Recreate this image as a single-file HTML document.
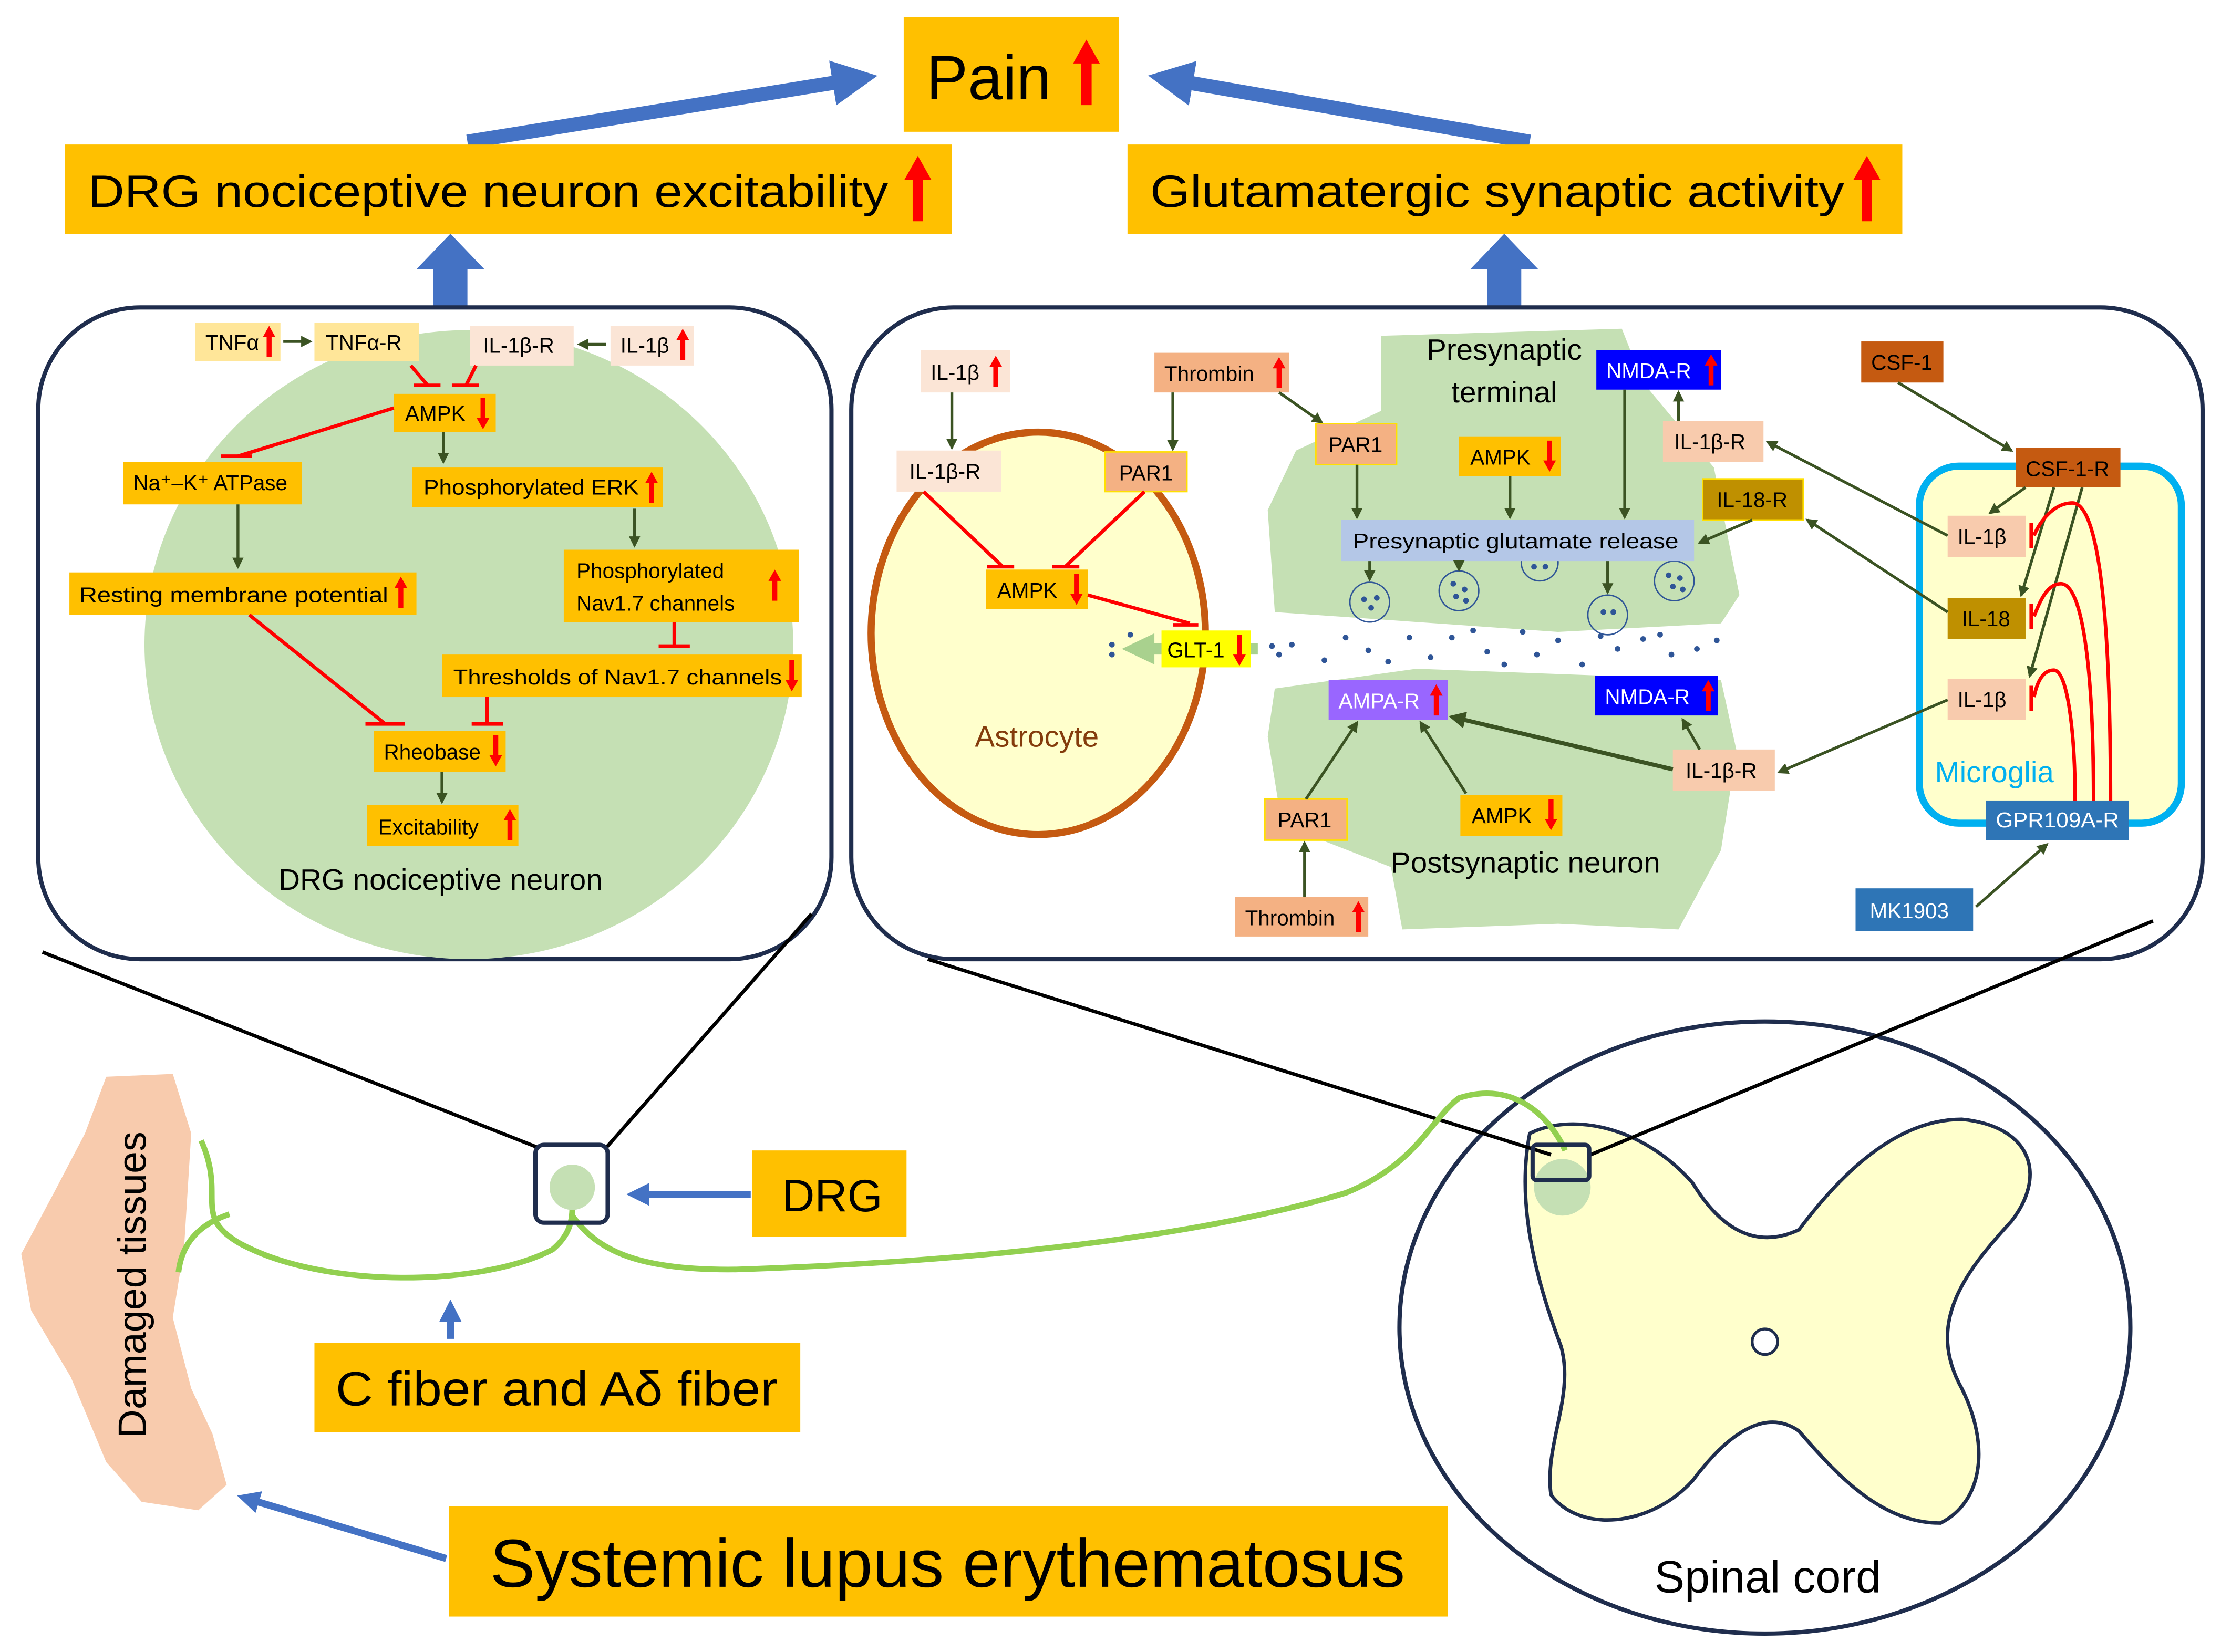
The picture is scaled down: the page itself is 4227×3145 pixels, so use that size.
<!DOCTYPE html>
<html><head><meta charset="utf-8"><style>
html,body{margin:0;padding:0;background:#fff}
svg{display:block}
text{font-family:"Liberation Sans",sans-serif}
</style></head><body>
<svg xmlns="http://www.w3.org/2000/svg" width="4227" height="3145" viewBox="0 0 1568 1166" preserveAspectRatio="none">
<defs>
<g id="up"><path d="M0,22 V6" stroke="#f00" stroke-width="3.5"/><path d="M-4.5,8 L0,0 L4.5,8Z" fill="#f00"/></g>
<g id="dn"><path d="M0,0 V16" stroke="#f00" stroke-width="3.5"/><path d="M-4.5,14 L0,22 L4.5,14Z" fill="#f00"/></g>
<marker id="ga" viewBox="0 0 10 10" refX="8" refY="5" markerWidth="4" markerHeight="4" orient="auto"><path d="M0,0 L10,5 L0,10Z" fill="#3B5323"/></marker>
<marker id="ba" viewBox="0 0 10 10" refX="7" refY="5" markerWidth="3.2" markerHeight="3.2" orient="auto"><path d="M0,0 L10,5 L0,10Z" fill="#4472C4"/></marker>
</defs>
<rect width="1568" height="1166" fill="#fff"/>

<!-- top -->
<line x1="330" y1="100" x2="610" y2="55" stroke="#4472C4" stroke-width="10" marker-end="url(#ba)"/>
<line x1="1080" y1="100" x2="820" y2="55" stroke="#4472C4" stroke-width="10" marker-end="url(#ba)"/>
<rect x="638" y="12" width="152" height="81" fill="#FFC000"/>
<text x="654" y="70" font-size="44">Pain</text>
<use href="#up" transform="translate(767,28) scale(2.1)"/>
<rect x="46" y="102" width="626" height="63" fill="#FFC000"/>
<text x="62" y="146" font-size="32" textLength="565" lengthAdjust="spacingAndGlyphs">DRG nociceptive neuron excitability</text>
<use href="#up" transform="translate(648,110) scale(2.1)"/>
<rect x="796" y="102" width="547" height="63" fill="#FFC000"/>
<text x="812" y="146" font-size="32" textLength="490" lengthAdjust="spacingAndGlyphs">Glutamatergic synaptic activity</text>
<use href="#up" transform="translate(1318,110) scale(2.1)"/>
<path d="M306,217 V190 H294 L318,165 L342,190 H330 V217Z" fill="#4472C4"/>
<path d="M1050,217 V190 H1038 L1062,165 L1086,190 H1074 V217Z" fill="#4472C4"/>

<!-- left panel -->
<rect x="27" y="217" width="560" height="460" rx="72" fill="#fff" stroke="#1F2D4D" stroke-width="3"/>
<ellipse cx="331" cy="455" rx="229" ry="222" fill="#C5E0B4"/>
<g font-size="15">
<rect x="138" y="228" width="60" height="27" fill="#FFE699"/><text x="145" y="247">TNFα</text><use href="#up" transform="translate(190,230) scale(1)"/>
<rect x="222" y="228" width="74" height="27" fill="#FFE699"/><text x="230" y="247">TNFα-R</text>
<rect x="332" y="230" width="73" height="28" fill="#FBE5D6"/><text x="341" y="249">IL-1β-R</text>
<rect x="431" y="230" width="59" height="28" fill="#FBE5D6"/><text x="438" y="249">IL-1β</text><use href="#up" transform="translate(482,232) scale(1)"/>
<rect x="278" y="278" width="72" height="27" fill="#FFC000"/><text x="286" y="297">AMPK</text><use href="#dn" transform="translate(341,281)"/>
<rect x="87" y="326" width="126" height="30" fill="#FFC000"/><text x="94" y="346">Na⁺–K⁺ ATPase</text>
<rect x="291" y="330" width="177" height="28" fill="#FFC000"/><text x="299" y="349" textLength="152" lengthAdjust="spacingAndGlyphs">Phosphorylated ERK</text><use href="#up" transform="translate(460,333)"/>
<rect x="49" y="404" width="245" height="30" fill="#FFC000"/><text x="56" y="425" textLength="218" lengthAdjust="spacingAndGlyphs">Resting membrane potential</text><use href="#up" transform="translate(283,407)"/>
<rect x="398" y="388" width="166" height="51" fill="#FFC000"/><text x="407" y="408">Phosphorylated</text><text x="407" y="431">Nav1.7  channels</text><use href="#up" transform="translate(547,402)"/>
<rect x="312" y="462" width="254" height="30" fill="#FFC000"/><text x="320" y="483" textLength="232" lengthAdjust="spacingAndGlyphs">Thresholds of Nav1.7 channels</text><use href="#dn" transform="translate(559,466)"/>
<rect x="264" y="516" width="93" height="29" fill="#FFC000"/><text x="271" y="536">Rheobase</text><use href="#dn" transform="translate(350,519)"/>
<rect x="259" y="568" width="107" height="29" fill="#FFC000"/><text x="267" y="589">Excitability</text><use href="#up" transform="translate(360,571)"/>
</g>
<g stroke="#3B5323" stroke-width="2" marker-end="url(#ga)" fill="none">
<line x1="200" y1="241" x2="219" y2="241"/><line x1="428" y1="243" x2="409" y2="243"/>
<line x1="313" y1="305" x2="313" y2="326"/><line x1="168" y1="356" x2="168" y2="400"/>
<line x1="448" y1="359" x2="448" y2="385"/><line x1="312" y1="545" x2="312" y2="566"/>
</g>
<g stroke="#f00" stroke-width="2.5" fill="none">
<path d="M290,258 L302,272 M292,272 H311"/><path d="M336,258 L329,272 M319,272 H338"/>
<path d="M278,288 L168,322 M156,322 H178"/>
<path d="M476,439 V456 M465,456 H487"/>
<path d="M176,434 L272,511 M258,511 H286"/>
<path d="M344,492 V511 M333,511 H355"/>
</g>
<text x="311" y="628" font-size="21" text-anchor="middle">DRG nociceptive neuron</text>

<!-- right panel -->
<rect x="601" y="217" width="954" height="460" rx="72" fill="#fff" stroke="#1F2D4D" stroke-width="3"/>
<path d="M975,237 L1145,232 L1160,270 L1210,330 L1228,420 L1215,440 L1100,446 L900,432 L895,360 L915,318 L975,290Z" fill="#C5E0B4"/>
<path d="M900,486 L1000,472 L1215,480 L1226,530 L1215,600 L1185,656 L1100,652 L990,656 L982,612 L905,582 L895,520Z" fill="#C5E0B4"/>
<ellipse cx="733" cy="447" rx="118" ry="142" fill="#FFFFCC" stroke="#C55A11" stroke-width="5"/>
<rect x="1355" y="329" width="185" height="252" rx="28" fill="#FFFFCC" stroke="#00B0F0" stroke-width="5"/>
<text x="1062" y="254" font-size="21" text-anchor="middle">Presynaptic</text>
<text x="1062" y="284" font-size="21" text-anchor="middle">terminal</text>
<text x="1077" y="616" font-size="21" text-anchor="middle">Postsynaptic neuron</text>
<text x="732" y="527" font-size="21" text-anchor="middle" fill="#843C0C">Astrocyte</text>
<text x="1408" y="552" font-size="21" text-anchor="middle" fill="#00B0F0">Microglia</text>
<g fill="none" stroke="#2F5597" stroke-width="1">
<circle cx="967" cy="425" r="14"/><circle cx="1030" cy="417" r="14"/><circle cx="1087" cy="397" r="13"/><circle cx="1135" cy="434" r="14"/><circle cx="1182" cy="410" r="14"/>
</g>
<g fill="#2F5597">
<circle cx="963" cy="423" r="2"/><circle cx="972" cy="422" r="2"/><circle cx="968" cy="429" r="2"/>
<circle cx="1026" cy="412" r="2"/><circle cx="1034" cy="416" r="2"/><circle cx="1028" cy="421" r="2"/><circle cx="1035" cy="424" r="2"/>
<circle cx="1083" cy="400" r="2"/><circle cx="1091" cy="400" r="2"/>
<circle cx="1132" cy="432" r="2"/><circle cx="1139" cy="432" r="2"/>
<circle cx="1178" cy="406" r="2"/><circle cx="1186" cy="408" r="2"/><circle cx="1181" cy="414" r="2"/><circle cx="1188" cy="416" r="2"/>
<circle cx="785" cy="455" r="2"/><circle cx="785" cy="462" r="2"/><circle cx="798" cy="448" r="2"/>
<circle cx="898" cy="456" r="2"/><circle cx="903" cy="462" r="2"/><circle cx="912" cy="455" r="2"/>
<circle cx="935" cy="466" r="2"/><circle cx="950" cy="450" r="2"/><circle cx="966" cy="459" r="2"/><circle cx="980" cy="467" r="2"/>
<circle cx="995" cy="450" r="2"/><circle cx="1010" cy="464" r="2"/><circle cx="1025" cy="450" r="2"/><circle cx="1040" cy="445" r="2"/>
<circle cx="1050" cy="460" r="2"/><circle cx="1062" cy="469" r="2"/><circle cx="1075" cy="446" r="2"/><circle cx="1085" cy="462" r="2"/>
<circle cx="1100" cy="452" r="2"/><circle cx="1117" cy="469" r="2"/><circle cx="1130" cy="449" r="2"/><circle cx="1142" cy="458" r="2"/>
<circle cx="1160" cy="451" r="2"/><circle cx="1172" cy="448" r="2"/><circle cx="1180" cy="462" r="2"/><circle cx="1198" cy="458" r="2"/><circle cx="1212" cy="452" r="2"/>
</g>
<path d="M888,454 H815 V447 L792,458 L815,469 V462 H888Z" fill="#A9D18E"/>
<g font-size="15">
<rect x="650" y="247" width="63" height="30" fill="#FBE5D6"/><text x="657" y="268">IL-1β</text><use href="#up" transform="translate(703,251)"/>
<rect x="815" y="249" width="95" height="28" fill="#F4B183"/><text x="822" y="269">Thrombin</text><use href="#up" transform="translate(903,252)"/>
<rect x="633" y="318" width="74" height="29" fill="#FBE5D6"/><text x="642" y="338">IL-1β-R</text>
<rect x="780" y="319" width="58" height="28" fill="#F4B183" stroke="#FFE000" stroke-width="1"/><text x="790" y="339">PAR1</text>
<rect x="696" y="402" width="72" height="28" fill="#FFC000"/><text x="704" y="422">AMPK</text><use href="#dn" transform="translate(760,405)"/>
<rect x="820" y="445" width="63" height="26" fill="#FFFF00"/><text x="824" y="464">GLT-1</text><use href="#dn" transform="translate(875,448)"/>
<rect x="1127" y="247" width="88" height="28" fill="#0000FF"/><text x="1134" y="267" fill="#fff">NMDA-R</text><use href="#up" transform="translate(1208,250)"/>
<rect x="929" y="299" width="57" height="29" fill="#F4B183" stroke="#FFE000" stroke-width="1"/><text x="938" y="319">PAR1</text>
<rect x="1030" y="308" width="72" height="28" fill="#FFC000"/><text x="1038" y="328">AMPK</text><use href="#dn" transform="translate(1094,311)"/>
<rect x="1174" y="297" width="71" height="29" fill="#F8CBAD"/><text x="1182" y="317">IL-1β-R</text>
<rect x="1202" y="338" width="71" height="29" fill="#BF9000" stroke="#FFE000" stroke-width="1"/><text x="1212" y="358">IL-18-R</text>
<rect x="947" y="367" width="249" height="29" fill="#B4C7E7"/><text x="955" y="387" textLength="230" lengthAdjust="spacingAndGlyphs">Presynaptic glutamate release</text>
<rect x="938" y="480" width="84" height="28" fill="#9966FF"/><text x="945" y="500" fill="#fff">AMPA-R</text><use href="#up" transform="translate(1014,483)"/>
<rect x="1126" y="477" width="87" height="28" fill="#0000FF"/><text x="1133" y="497" fill="#fff">NMDA-R</text><use href="#up" transform="translate(1206,480)"/>
<rect x="1181" y="529" width="72" height="29" fill="#F8CBAD"/><text x="1190" y="549">IL-1β-R</text>
<rect x="893" y="564" width="58" height="29" fill="#F4B183" stroke="#FFE000" stroke-width="1"/><text x="902" y="584">PAR1</text>
<rect x="1031" y="561" width="72" height="29" fill="#FFC000"/><text x="1039" y="581">AMPK</text><use href="#dn" transform="translate(1095,564)"/>
<rect x="872" y="633" width="94" height="28" fill="#F4B183"/><text x="879" y="653">Thrombin</text><use href="#up" transform="translate(959,636)"/>
<rect x="1314" y="241" width="58" height="29" fill="#C55A11"/><text x="1321" y="261">CSF-1</text>
<rect x="1423" y="316" width="74" height="28" fill="#C55A11"/><text x="1430" y="336">CSF-1-R</text>
<rect x="1375" y="364" width="55" height="29" fill="#F8CBAD"/><text x="1382" y="384">IL-1β</text>
<rect x="1375" y="422" width="55" height="29" fill="#BF9000"/><text x="1385" y="442">IL-18</text>
<rect x="1375" y="479" width="55" height="29" fill="#F8CBAD"/><text x="1382" y="499">IL-1β</text>
<rect x="1402" y="565" width="101" height="28" fill="#2E75B6"/><text x="1409" y="584" fill="#fff" textLength="87" lengthAdjust="spacingAndGlyphs">GPR109A-R</text>
<rect x="1310" y="627" width="83" height="30" fill="#2E75B6"/><text x="1320" y="648" fill="#fff">MK1903</text>
</g>
<g stroke="#3B5323" stroke-width="2" marker-end="url(#ga)" fill="none">
<line x1="672" y1="277" x2="672" y2="316"/><line x1="828" y1="277" x2="828" y2="317"/>
<line x1="903" y1="277" x2="933" y2="298"/>
<line x1="958" y1="328" x2="958" y2="365"/><line x1="1066" y1="336" x2="1066" y2="365"/><line x1="1147" y1="275" x2="1147" y2="365"/>
<line x1="1185" y1="297" x2="1185" y2="277"/>
<line x1="967" y1="396" x2="967" y2="409"/><line x1="1030" y1="396" x2="1030" y2="402"/><line x1="1135" y1="396" x2="1135" y2="418"/>
<line x1="922" y1="564" x2="958" y2="510"/><line x1="1035" y1="560" x2="1003" y2="510"/>
<line x1="1181" y1="543" x2="1025" y2="506" stroke-width="3"/><line x1="1200" y1="529" x2="1188" y2="508"/>
<line x1="921" y1="633" x2="921" y2="595"/>
<line x1="1340" y1="270" x2="1420" y2="318"/>
<line x1="1430" y1="344" x2="1405" y2="362"/><line x1="1450" y1="344" x2="1427" y2="420"/><line x1="1470" y1="344" x2="1433" y2="477"/>
<line x1="1375" y1="378" x2="1248" y2="312"/><line x1="1375" y1="432" x2="1276" y2="367"/><line x1="1375" y1="494" x2="1256" y2="545"/>
<line x1="1237" y1="367" x2="1200" y2="383"/>
<line x1="1395" y1="640" x2="1445" y2="596"/>
</g>
<g stroke="#f00" stroke-width="2.5" fill="none">
<path d="M652,347 L708,400 M697,400 H716"/><path d="M808,347 L752,400 M743,400 H762"/>
<path d="M768,420 L840,440 M828,441 H846"/>
<path d="M1490,565 C1490,420 1480,355 1463,355 C1450,355 1440,368 1436,378 M1434,369 V387"/>
<path d="M1478,565 C1478,470 1470,412 1455,412 C1445,412 1440,425 1436,435 M1434,426 V444"/>
<path d="M1465,565 C1465,520 1460,473 1450,473 C1442,473 1438,482 1436,492 M1434,484 V502"/>
</g>

<!-- bottom -->
<path d="M75,760 L122,758 L135,800 L130,880 L122,930 L135,980 L150,1012 L160,1048 L140,1066 L100,1060 L75,1032 L50,972 L22,925 L15,885 L38,842 L60,800Z" fill="#F8CBAD"/>
<text transform="translate(103,1015) rotate(-90)" font-size="28">Damaged  tissues</text>
<ellipse cx="1246" cy="937" rx="258" ry="216" fill="#fff" stroke="#1F2D4D" stroke-width="3"/>
<path d="M1080,800 C1110,785 1160,795 1195,835 C1215,868 1240,882 1270,868 C1295,835 1335,790 1385,790 C1435,795 1445,830 1420,862 C1385,900 1360,935 1385,980 C1405,1020 1400,1060 1370,1075 C1330,1075 1300,1045 1270,1010 C1250,996 1225,1005 1195,1045 C1165,1078 1115,1082 1095,1055 C1090,1020 1112,985 1102,950 C1085,905 1070,850 1080,800Z" fill="#FFFFCC" stroke="#1F2D4D" stroke-width="2.5"/>
<circle cx="1246" cy="947" r="9" fill="#fff" stroke="#1F2D4D" stroke-width="2"/>
<circle cx="1103" cy="838" r="20" fill="#C5E0B4"/>
<text x="1248" y="1124" font-size="32" text-anchor="middle">Spinal cord</text>
<g stroke="#000" stroke-width="2.5">
<line x1="30" y1="672" x2="380" y2="810"/><line x1="573" y1="645" x2="428" y2="810"/>
<line x1="655" y1="677" x2="1095" y2="815"/><line x1="1520" y1="650" x2="1123" y2="815"/>
</g>
<g stroke="#92D050" stroke-width="4" fill="none">
<path d="M142,805 C160,845 135,858 170,878 C230,910 340,908 390,882 C402,872 404,862 404,852"/>
<path d="M162,857 C138,865 128,880 126,898"/>
<path d="M404,858 C420,880 445,897 520,896 C700,890 850,872 950,842 C1000,822 1010,790 1030,775 C1070,762 1095,790 1105,812"/>
</g>
<rect x="378" y="808" width="51" height="55" rx="6" fill="none" stroke="#1F2D4D" stroke-width="3"/>
<circle cx="404" cy="838" r="16" fill="#C5E0B4"/>
<rect x="1082" y="808" width="40" height="25" rx="3" fill="none" stroke="#1F2D4D" stroke-width="3"/>
<line x1="530" y1="843" x2="447" y2="843" stroke="#4472C4" stroke-width="5" marker-end="url(#ba)"/>
<line x1="318" y1="945" x2="318" y2="922" stroke="#4472C4" stroke-width="5" marker-end="url(#ba)"/>
<line x1="315" y1="1100" x2="172" y2="1057" stroke="#4472C4" stroke-width="5" marker-end="url(#ba)"/>
<rect x="531" y="812" width="109" height="61" fill="#FFC000"/><text x="552" y="855" font-size="32">DRG</text>
<rect x="222" y="948" width="343" height="63" fill="#FFC000"/><text x="237" y="992" font-size="34" textLength="312" lengthAdjust="spacingAndGlyphs">C fiber and Aδ fiber</text>
<rect x="317" y="1063" width="705" height="78" fill="#FFC000"/><text x="346" y="1120" font-size="48" textLength="646" lengthAdjust="spacingAndGlyphs">Systemic lupus erythematosus</text>
</svg>
</body></html>
